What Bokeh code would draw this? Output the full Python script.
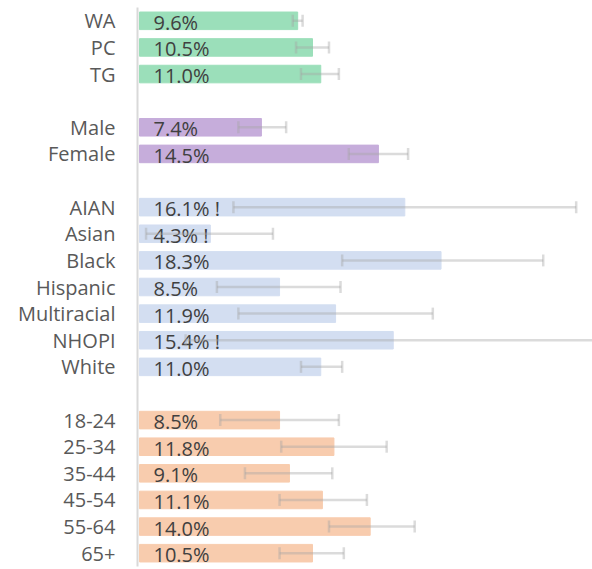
from bokeh.plotting import figure
from bokeh.models import ColumnDataSource, Range1d, FixedTicker, Whisker, TeeHead
from bokeh.core.properties import value
from bokeh.embed import file_html
from bokeh.resources import INLINE

# ---- data ----
groups = [
    ["WA", "PC", "TG"],
    ["Male", "Female"],
    ["AIAN", "Asian", "Black", "Hispanic", "Multiracial", "NHOPI", "White"],
    ["18-24", "25-34", "35-44", "45-54", "55-64", "65+"],
]
group_colors = ["#9bdfba", "#c6addb", "#d3def1", "#f8ccae"]

values = [9.6, 10.5, 11.0,
          7.4, 14.5,
          16.1, 4.3, 18.3, 8.5, 11.9, 15.4, 11.0,
          8.5, 11.8, 9.1, 11.1, 14.0, 10.5]
lower = [9.3, 9.5, 9.8,
         6.0, 12.7,
         5.7, 0.4, 12.3, 4.7, 6.0, 2.8, 9.8,
         4.9, 8.6, 6.4, 8.5, 11.5, 8.5]
upper = [9.9, 11.5, 12.1,
         8.9, 16.3,
         26.5, 8.1, 24.5, 12.2, 17.8, 29.0, 12.3,
         12.1, 15.0, 11.7, 13.8, 16.7, 12.4]
flags = ["", "", "",
         "", "",
         " !", " !", "", "", "", " !", "",
         "", "", "", "", "", ""]

# ---- layout rows (blank row between groups) ----
cats, rows, colors = [], [], []
r = 0
for gi, g in enumerate(groups):
    for c in g:
        cats.append(c)
        rows.append(r)
        colors.append(group_colors[gi])
        r += 1
    r += 1
n_rows = r - 1

labels = [f"{v:.1f}%{f}" for v, f in zip(values, flags)]

src = ColumnDataSource(dict(cat=cats, y=rows, v=values, lo=lower, hi=upper,
                            color=colors, label=labels, zero=[0] * len(cats)))

p = figure(width=592, height=569, output_backend="svg", toolbar_location=None,
           x_range=Range1d(-0.12, 27.49), y_range=Range1d(n_rows - 0.5, -0.5),
           min_border_left=137, min_border_right=0, min_border_top=7, min_border_bottom=3)

p.hbar(y="y", left=0, right="v", height=0.66, color="color", source=src)

w = Whisker(base="y", lower="lo", upper="hi", dimension="width", source=src,
            line_color="#a6a6a6", line_alpha=0.4, line_width=2.5, level="overlay",
            upper_head=TeeHead(size=12, line_color="#a6a6a6", line_alpha=0.4, line_width=2.5),
            lower_head=TeeHead(size=12, line_color="#a6a6a6", line_alpha=0.4, line_width=2.5))
p.add_layout(w)

p.text(x="zero", y="y", text="label", source=src, x_offset=14, y_offset=1.5,
       text_font=value("Open Sans"), text_font_size="20px", text_color="#404040",
       text_baseline="middle", text_align="left")

p.xaxis.visible = False
p.xgrid.visible = False
p.ygrid.visible = False
p.outline_line_color = None

ya = p.yaxis[0]
ya.ticker = FixedTicker(ticks=rows)
ya.major_label_overrides = {y: c for y, c in zip(rows, cats)}
ya.major_tick_line_color = None
ya.minor_tick_line_color = None
ya.major_tick_out = 0
ya.major_tick_in = 0
ya.minor_tick_out = 0
ya.axis_line_color = "#d9d9d9"
ya.axis_line_width = 2
ya.major_label_standoff = 22
ya.major_label_text_font = "Open Sans"
ya.major_label_text_font_size = "20px"
ya.major_label_text_color = "#595959"

open("out.html", "w").write(file_html(p, INLINE))
